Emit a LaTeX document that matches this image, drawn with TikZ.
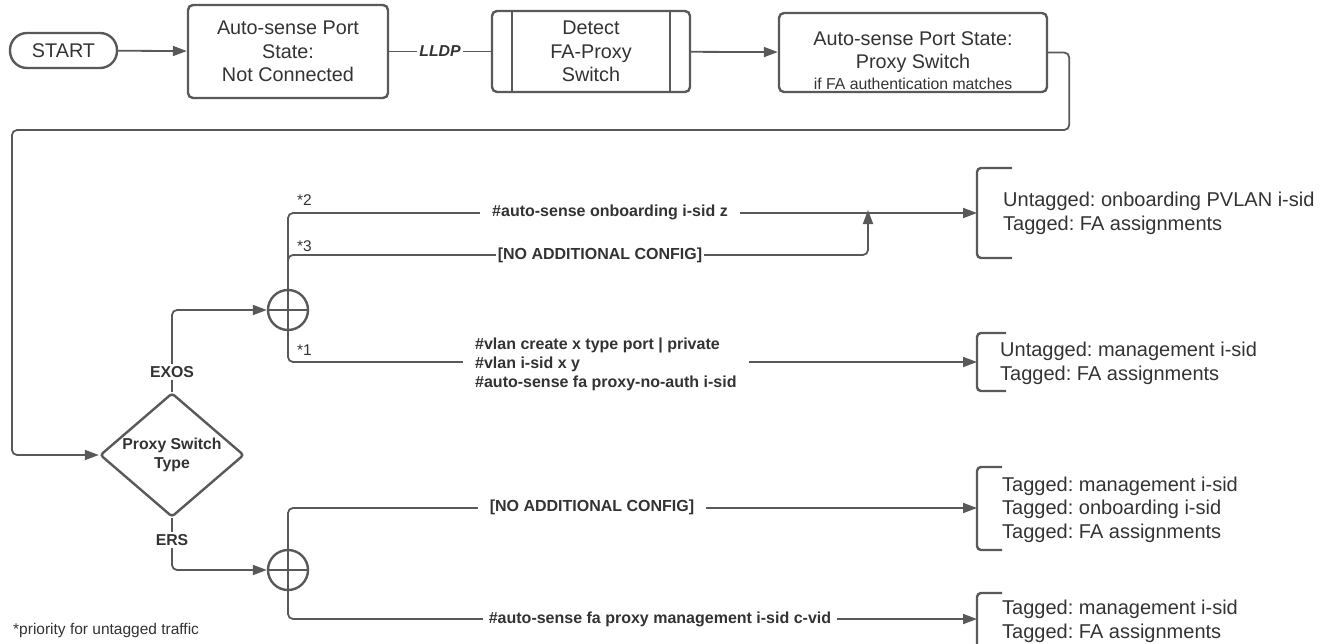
\documentclass[tikz,border=0pt]{standalone}
\usepackage{fontspec}
\setmainfont{Liberation Sans}
\usetikzlibrary{arrows.meta,shapes.geometric,positioning}
\frenchspacing
\newcommand\boxfont{\fontsize{19.8}{23.5}\selectfont}
\newcommand\resfont{\fontsize{20}{23.5}\selectfont}
\newcommand\cmdfont{\fontsize{16}{19}\selectfont\bfseries}
\newcommand\lblfont{\fontsize{15.8}{19}\selectfont\bfseries}
\newcommand\smallfont{\fontsize{15.5}{18}\selectfont}
\colorlet{line gray}{black!65}
\colorlet{text gray}{black!80}
\tikzset{every node/.style={text=text gray},
    flow/.style={draw=line gray, line width=1.8pt},
    arrow/.style={flow, -{Triangle[length=14pt,width=10pt]}},
    boxline/.style={draw=line gray, line width=2.4pt},
    box/.style={boxline, rounded corners=5pt, align=center, font=\boxfont, inner sep=0pt},
    terminal/.style={boxline, rounded corners=17pt, font=\boxfont, minimum width=107pt, minimum height=35pt},
    decision/.style={boxline, diamond, rounded corners=3pt, aspect=1.16, inner sep=0pt,
        minimum width=144pt, minimum height=124pt, align=center, font=\lblfont},
    junction/.style={boxline, circle, minimum size=40pt, inner sep=0pt},
    cmd/.style={fill=white, font=\cmdfont, inner ysep=1pt, inner xsep=12pt},
    lbl/.style={fill=white, font=\lblfont, inner sep=2pt},
    note/.style={font=\smallfont, anchor=west, inner sep=0pt},
    result/.style={font=\resfont, align=left, anchor=west, inner sep=0pt},
    bracket/.style={boxline, rounded corners=4pt}}

\begin{document}
\begin{tikzpicture}[x=1pt,y=-1pt]
    \useasboundingbox (0,0) rectangle (1328,643);
    % top row
    \node[terminal] (start) at (63.5,50.5) {START};
    \node[box, minimum width=200pt, minimum height=93pt] (notconn) at (288,51.5) {Auto-sense Port\\State:\\Not Connected};
    \node[box, minimum width=198pt, minimum height=81pt] (detect) at (591,51.5) {Detect\\FA-Proxy\\Switch};
    \draw[boxline] ([xshift=21pt]detect.north west) -- ([xshift=21pt]detect.south west)
        ([xshift=-21pt]detect.north east) -- ([xshift=-21pt]detect.south east);
    \node[box, minimum width=268pt, minimum height=79pt] (proxy) at (913,52.5)
        {\rule{0pt}{30pt}Auto-sense Port State:\\Proxy Switch\\[-3pt]{\fontsize{15.8}{18}\selectfont if FA authentication matches}};
    \draw[arrow] (start) -- (notconn);
    \draw[flow] (notconn) -- node[lbl, font=\lblfont\itshape] {LLDP} (detect);
    \draw[arrow] (detect) -- (proxy);

    % decision
    \node[decision] (type) at (172,455) {Proxy Switch\\Type};
    \draw[arrow, rounded corners=5pt] (proxy.east) -- ++(21,0) |- (12,130) |- (type.west);
    \node[junction] (exos) at (288,310) {};
    \node[junction] (ers) at (288,570) {};
    \draw[flow] (exos.west) -- (exos.east) (exos.north) -- (exos.south)
        (ers.west) -- (ers.east) (ers.north) -- (ers.south);
    \draw[arrow, rounded corners=5pt] (type.north) |- (exos.west);
    \draw[arrow, rounded corners=5pt] (type.south) |- (ers.west);
    \node[lbl] at (172,372) {EXOS};
    \node[lbl] at (172,540) {ERS};

    % result brackets
    \coordinate (k1) at (977,213);
    \coordinate (k2) at (977,362);
    \coordinate (k3) at (977,508);
    \coordinate (k4) at (977,619);
    \coordinate (merge) at (868,212);
    \draw[bracket] (1012,168) -| (977,258) -- (1012,258);
    \draw[bracket] (1006,333) -| (977,391) -- (1006,391);
    \draw[bracket] (1002,467) -| (977,550) -- (1002,550);
    \draw[bracket] (1002,593) -| (977,670) -- (1002,670);
    \node[result] (onb) at (1003,213.5) {Untagged: onboarding PVLAN i-sid\\Tagged: FA assignments};
    \node[result] (mgmt) at (1000,363.5) {Untagged: management i-sid\\Tagged: FA assignments};
    \node[result] (ersall) at (1002,509.5) {Tagged: management i-sid\\Tagged: onboarding i-sid\\Tagged: FA assignments};
    \node[result] (ersmgmt) at (1002,621.5) {Tagged: management i-sid\\Tagged: FA assignments};

    % EXOS branches
    \draw[arrow, rounded corners=5pt] (exos.north) |- (k1);
    \draw[arrow, rounded corners=5pt] (exos.north) |- (868,255) -- ([yshift=2pt]merge);
    \draw[arrow, rounded corners=5pt] (exos.south) |- (k2);
    \node[cmd] at (610,212) {\#auto-sense onboarding i-sid z};
    \node[cmd, inner xsep=2pt] at (600,255) {[NO ADDITIONAL CONFIG]};
    \node[cmd, align=left, anchor=west, inner xsep=12pt] at (463,364)
        {\#vlan create x type port | private\\\#vlan i-sid x y\\\#auto-sense fa proxy-no-auth i-sid};
    \node[note] at (297,200) {*2};
    \node[note] at (297,246) {*3};
    \node[note] at (297,350) {*1};

    % ERS branches
    \draw[arrow, rounded corners=5pt] (ers.north) |- (k3);
    \draw[arrow, rounded corners=5pt] (ers.south) |- (k4);
    \node[cmd] at (592,507) {[NO ADDITIONAL CONFIG]};
    \node[cmd, inner xsep=6pt] at (660,619) {\#auto-sense fa proxy management i-sid c-vid};

    \node[note] at (13,630) {*priority for untagged traffic};
\end{tikzpicture}
\end{document}
